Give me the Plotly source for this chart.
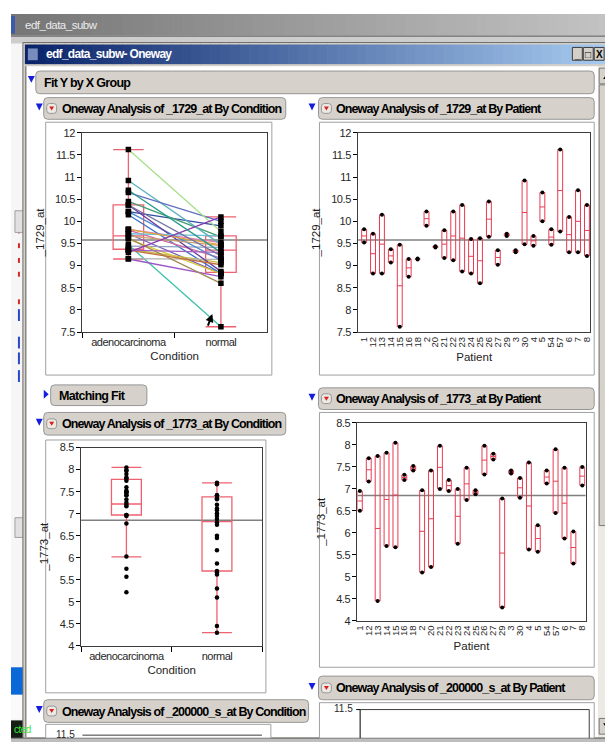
import numpy as np
import plotly.graph_objects as go

W, H = 613, 742
FONT = "Liberation Sans, Arial, sans-serif"

# ---------------- data ----------------
conditions = ["adenocarcinoma", "normal"]
patients = ["1", "12", "13", "14", "15", "16", "18", "2", "20", "21", "22", "23", "24",
            "25", "26", "27", "29", "3", "30", "4", "5", "54", "57", "6", "7", "8"]

# _1729_at per patient (adenocarcinoma / normal)
a1729 = [9.82, 9.72, 10.15, 9.37, 9.47, 9.15, 9.16, 10.22, 9.44, 9.80, 10.22, 10.37, 9.60,
         9.62, 10.45, 9.35, 9.72, 9.35, 10.92, 9.67, 10.65, 9.82, 11.62, 9.30, 10.70, 10.37]
n1729 = [9.52, 8.82, 8.82, 9.07, 7.62, 8.75, 9.14, 9.90, 9.41, 9.17, 9.12, 8.87, 8.82,
         8.60, 9.65, 9.02, 9.67, 9.30, 9.48, 9.45, 10.00, 9.47, 9.77, 10.10, 9.30, 9.22]

# _1773_at per patient (adenocarcinoma / normal)
a1773 = [6.95, 7.17, 7.75, 7.82, 8.05, 7.32, 7.52, 6.97, 5.22, 7.98, 7.20, 5.75, 7.48,
         6.97, 7.98, 7.80, 6.78, 7.42, 7.25, 7.60, 5.57, 7.42, 7.90, 7.48, 6.03, 7.50]
n1773 = [6.50, 7.70, 4.45, 5.70, 5.67, 7.20, 7.42, 5.10, 7.42, 7.00, 6.95, 7.00, 6.75,
         6.88, 7.33, 7.67, 4.30, 7.35, 6.80, 5.62, 6.17, 7.12, 6.45, 5.87, 5.30, 7.08]

# quantile boxes by condition
b1729_q1 = [9.37, 8.85]
b1729_med = [9.67, 9.35]
b1729_q3 = [10.37, 9.67]
b1729_lo = [9.15, 7.62]
b1729_hi = [11.62, 10.10]

b1773_q1 = [6.97, 5.70]
b1773_med = [7.22, 6.82]
b1773_q3 = [7.78, 7.38]
b1773_lo = [6.02, 4.30]
b1773_hi = [8.05, 7.70]

mean_1729 = 9.58
mean_1773 = 6.85

yticks_1729 = [7.5, 8, 8.5, 9, 9.5, 10, 10.5, 11, 11.5, 12]
yticks_1773 = [4, 4.5, 5, 5.5, 6, 6.5, 7, 7.5, 8, 8.5]

line_colors = ["#e07fb0", "#7b5fb8", "#3a6fc8", "#c9b93a", "#3cc0a8", "#9a55c8", "#b0b0b0",
               "#2f4f9f", "#8fa0c0", "#d06a9a", "#4a8ad0", "#6a3aa0", "#d8c840", "#a08a50",
               "#3f9f6f", "#c07040", "#70c0d8", "#a060c0", "#5ab0c0", "#c8a070", "#6070c0",
               "#e0a040", "#a6e08a", "#8a3ab0", "#2a9a8a", "#7070a0"]

RED = "rgb(232,58,80)"
PINK = "rgb(238,98,112)"
HDR = "rgb(214,210,203)"

# ---------------- helpers ----------------
def px(x):
    return x / W

def py(y):
    return 1 - y / H

shapes = []
annots = []

def rect(x0, y0, x1, y1, fill, line=None, lw=1):
    shapes.append(dict(type="rect", xref="paper", yref="paper", layer="below",
                       x0=px(x0), x1=px(x1), y0=py(y1), y1=py(y0),
                       fillcolor=fill, line=dict(color=line or fill, width=lw if line else 0)))

def hline(x0, x1, y, color, lw=1):
    shapes.append(dict(type="line", xref="paper", yref="paper", layer="below",
                       x0=px(x0), x1=px(x1), y0=py(y), y1=py(y), line=dict(color=color, width=lw)))

def vline(x, y0, y1, color, lw=1):
    shapes.append(dict(type="line", xref="paper", yref="paper", layer="below",
                       x0=px(x), x1=px(x), y0=py(y0), y1=py(y1), line=dict(color=color, width=lw)))

def poly(pts, fill, line=None):
    d = "M " + " L ".join(f"{px(a):.5f},{py(b):.5f}" for a, b in pts) + " Z"
    shapes.append(dict(type="path", xref="paper", yref="paper", layer="below", path=d,
                       fillcolor=fill, line=dict(color=line or fill, width=1 if line else 0)))

def rrect(x0, y0, x1, y1, r, fill, line):
    rx, ry = r / W, r / H
    X0, X1, Y0, Y1 = px(x0), px(x1), py(y1), py(y0)
    d = (f"M {X0+rx},{Y1} L {X1-rx},{Y1} Q {X1},{Y1} {X1},{Y1-ry} L {X1},{Y0+ry} "
         f"Q {X1},{Y0} {X1-rx},{Y0} L {X0+rx},{Y0} Q {X0},{Y0} {X0},{Y0+ry} "
         f"L {X0},{Y1-ry} Q {X0},{Y1} {X0+rx},{Y1} Z")
    shapes.append(dict(type="path", xref="paper", yref="paper", layer="below", path=d,
                       fillcolor=fill, line=dict(color=line, width=1)))

def squeeze(s, ls):
    return f'<span style="letter-spacing:{ls}px">{s}</span>'

def text(x, y, s, size=12, color="black", xanchor="left", bold=False, ls=None):
    t = f"<b>{s}</b>" if bold else s
    if ls is not None:
        t = squeeze(t, ls)
    annots.append(dict(x=px(x), y=py(y), xref="paper", yref="paper", showarrow=False,
                       text=t, xanchor=xanchor, yanchor="middle",
                       font=dict(family=FONT, size=size, color=color)))

def gradient(x0, y0, x1, y1, c0, c1, n=60):
    for i in range(n):
        t = i / (n - 1)
        c = tuple(int(round(c0[k] + (c1[k] - c0[k]) * t)) for k in range(3))
        xa = x0 + (x1 - x0) * i / n
        xb = x0 + (x1 - x0) * (i + 1) / n + 0.6
        rect(xa, y0, xb, y1, f"rgb{c}")

def blue_down(x, y):
    poly([(x, y), (x + 7, y), (x + 3.5, y + 7)], "rgb(20,30,220)")

def red_icon(x, y):
    rrect(x, y, x + 10, y + 10, 3, "rgb(236,233,228)", "rgb(150,150,150)")
    poly([(x + 2.5, y + 3), (x + 7.5, y + 3), (x + 5, y + 7)], "rgb(220,30,30)")

def header(x0, y0, x1, y1, label, tri_x=None, icon=True):
    rrect(x0, y0, x1, y1, 4, HDR, "rgb(150,150,150)")
    yc = (y0 + y1) / 2
    if tri_x is not None:
        blue_down(tri_x, yc - 5)
    if icon:
        red_icon(x0 + 3, yc - 5)
        text(x0 + 16, yc + 0.5, label, size=12.5, bold=True, ls=-0.9)
    else:
        text(x0 + 6, yc + 0.5, label, size=12.5, bold=True, ls=-0.7)

# ---------------- window chrome ----------------
rect(0, 0, W, H, "rgb(212,208,200)")
gradient(0, 0, W, 22, (118, 118, 118), (196, 196, 196))
rect(0, 2, 4, 20, "rgb(60,90,170)")
text(12, 11, "edf_data_subw", size=11.5, color="rgb(235,235,235)", ls=-0.5)
rect(0, 22, W, 30, "rgb(205,205,205)")
hline(0, W, 22.5, "rgb(90,90,90)")
# left strip of the other window
rect(0, 30, 14, 742, "rgb(246,246,246)")
for yy in (218, 233, 248, 262, 290):
    rect(7, yy, 9, yy + 5, "rgb(215,40,40)")
for yy in (300, 328, 344, 362):
    rect(7, yy, 9, yy + 12, "rgb(40,70,200)")
rect(4, 200, 13, 222, "rgb(225,225,225)", "rgb(160,160,160)")
rect(4, 512, 13, 532, "rgb(225,225,225)", "rgb(160,160,160)")
rect(0, 664, 30, 692, "rgb(10,105,215)")
rect(0, 692, 30, 716, "rgb(250,250,250)")
rect(0, 718, 26, 736, "rgb(20,30,20)")
text(1, 727, "cted", size=10, color="rgb(60,230,60)", ls=-0.5)
# inner window frame
rect(12, 29, 611, 737, "rgb(212,208,200)", "rgb(110,110,110)")
gradient(14, 31, 604, 51, (10, 36, 106), (166, 202, 240))
rect(17, 35, 27, 47, "rgb(120,140,190)")
text(33, 41, "edf_data_subw- Oneway", size=12, color="white", bold=True, ls=-0.7)
for i, sym in enumerate(["_", "□", "X"]):
    bx = 566 + i * 11
    rect(bx, 34, bx + 10, 47, "rgb(212,208,200)", "rgb(60,60,60)")
    text(bx + 5, 41, sym, size=10, color="black", xanchor="center", bold=True)
# client area
rect(15, 53, 592, 735, "white")
vline(15, 53, 735, "rgb(90,90,90)")
# scrollbar
rect(592, 53, 609, 735, "rgb(236,234,228)")
rect(593, 55, 608, 71, HDR, "rgb(120,120,120)")
poly([(597, 66), (604, 66), (600.5, 61)], "black")
rect(593, 72, 608, 520, HDR, "rgb(120,120,120)")
rect(593, 716, 608, 732, HDR, "rgb(120,120,120)")
poly([(597, 721), (604, 721), (600.5, 726)], "black")
rect(609, 30, W, 742, "rgb(180,180,180)")
rect(0, 736, W, 742, "rgb(190,190,190)")
hline(0, W, 736, "rgb(90,90,90)")

# headers
header(25, 58, 588, 81, "Fit Y by X Group", tri_x=None, icon=False)
blue_down(17, 63)
header(33, 85, 277, 107, "Oneway Analysis of _1729_at By Condition", tri_x=25)
header(310, 85, 588, 107, "Oneway Analysis of _1729_at By Patient", tri_x=300)
rrect(40, 377, 137, 398, 4, HDR, "rgb(150,150,150)")
poly([(33, 382), (33, 391), (38, 386.5)], "rgb(20,30,220)")
text(46, 388, "Matching Fit", size=12.5, bold=True, ls=-0.7)
header(33, 405, 277, 428, "Oneway Analysis of _1773_at By Condition", tri_x=25)
header(310, 380, 588, 402, "Oneway Analysis of _1773_at By Patient", tri_x=300)
header(310, 673, 588, 697, "Oneway Analysis of _200000_s_at By Patient", tri_x=300)
header(33, 697, 300, 720, "Oneway Analysis of _200000_s_at By Condition", tri_x=25)

# panels
rect(35, 110, 263, 367, "white", "rgb(160,160,160)")
rect(311, 110, 588, 367, "white", "rgb(160,160,160)")
rect(35, 433, 257, 690, "white", "rgb(160,160,160)")
rect(311, 405, 588, 664, "white", "rgb(160,160,160)")
rect(311, 700, 588, 736, "white", "rgb(160,160,160)")
rect(35, 722, 262, 736, "white", "rgb(160,160,160)")
# partially visible plots at the bottom
hline(352, 583, 707, "rgb(60,60,60)")
vline(352, 707, 736, "black")
vline(583, 707, 736, "rgb(60,60,60)")
hline(348, 352, 707, "black")
text(347, 706, "11.5", size=10, color="rgb(40,40,40)", xanchor="right")
hline(72, 253, 733, "rgb(60,60,60)")
text(67, 732, "11.5", size=10, color="rgb(40,40,40)", xanchor="right")

# ---------------- figure ----------------
fig = go.Figure()

def box_cond(xa, ya, q1, med, q3, lo, hi):
    fig.add_trace(go.Box(x=conditions, q1=q1, median=med, q3=q3, lowerfence=lo, upperfence=hi,
                         width=0.33, whiskerwidth=1, boxpoints=False,
                         line=dict(color=PINK, width=1.3), fillcolor="rgba(0,0,0,0)",
                         xaxis=xa, yaxis=ya, showlegend=False, hoverinfo="skip"))

def box_pat(xa, ya, a, n):
    lo = list(np.minimum(a, n))
    hi = list(np.maximum(a, n))
    md = list((np.array(a) + np.array(n)) / 2)
    fig.add_trace(go.Box(x=patients, q1=lo, median=md, q3=hi, lowerfence=lo, upperfence=hi,
                         width=0.55, whiskerwidth=0, boxpoints=False,
                         line=dict(color=RED, width=1), fillcolor="rgba(0,0,0,0)",
                         xaxis=xa, yaxis=ya, showlegend=False, hoverinfo="skip"))
    fig.add_trace(go.Scatter(x=patients + patients, y=list(a) + list(n), mode="markers",
                             marker=dict(color="black", size=4, symbol="circle"),
                             xaxis=xa, yaxis=ya, showlegend=False, hoverinfo="skip"))

# top-left: _1729_at by Condition with matching lines
box_cond("x", "y", b1729_q1, b1729_med, b1729_q3, b1729_lo, b1729_hi)
for i in range(len(patients)):
    fig.add_trace(go.Scatter(x=conditions, y=[a1729[i], n1729[i]], mode="lines",
                             line=dict(color=line_colors[i], width=1.3),
                             xaxis="x", yaxis="y", showlegend=False, hoverinfo="skip"))
fig.add_trace(go.Scatter(x=[conditions[0]] * len(a1729) + [conditions[1]] * len(n1729),
                         y=a1729 + n1729, mode="markers",
                         marker=dict(color="black", size=5.5, symbol="square"),
                         xaxis="x", yaxis="y", showlegend=False, hoverinfo="skip"))

# top-right
box_pat("x2", "y2", a1729, n1729)

# bottom-left
box_cond("x3", "y3", b1773_q1, b1773_med, b1773_q3, b1773_lo, b1773_hi)
fig.add_trace(go.Scatter(x=[conditions[0]] * len(a1773) + [conditions[1]] * len(n1773),
                         y=a1773 + n1773, mode="markers",
                         marker=dict(color="black", size=4.5, symbol="circle"),
                         xaxis="x3", yaxis="y3", showlegend=False, hoverinfo="skip"))

# bottom-right
box_pat("x4", "y4", a1773, n1773)

# grand mean lines
for xr, yr, m in (("x", "y", mean_1729), ("x2", "y2", mean_1729),
                  ("x3", "y3", mean_1773), ("x4", "y4", mean_1773)):
    shapes.append(dict(type="line", xref=f"{xr} domain", yref=yr, x0=0, x1=1, y0=m, y1=m,
                       layer="below", line=dict(color="rgb(128,128,128)", width=1.5)))

# cursor arrow in top-left plot
annots.append(dict(x=px(203), y=py(305), xref="paper", yref="paper", showarrow=True,
                   ax=-5, ay=13, arrowhead=2, arrowsize=0.8, arrowwidth=2, arrowcolor="black",
                   text=""))

tickfont = dict(family=FONT, size=11, color="rgb(40,40,40)")
patfont = dict(family=FONT, size=9.5, color="rgb(40,40,40)")
titlefont = dict(family=FONT, size=11.5, color="rgb(30,30,30)")
cond_text = [squeeze(c, -0.5) for c in conditions]
ytext_1729 = [squeeze(f"{v:g}", -0.4) for v in yticks_1729]
ytext_1773 = [squeeze(f"{v:g}", -0.4) for v in yticks_1773]

def ax_common(tf=tickfont):
    return dict(showline=True, linecolor="rgb(60,60,60)", linewidth=1, mirror=True,
                showgrid=False, zeroline=False, tickfont=tf, tickcolor="black")

def dom_x(a, b):
    return [px(a), px(b)]

def dom_y(top, bot):
    return [py(bot), py(top)]

layout = dict(
    width=W, height=H, margin=dict(l=0, r=0, t=0, b=0),
    paper_bgcolor="white", plot_bgcolor="white", showlegend=False,
    font=dict(family=FONT), boxmode="overlay",
    xaxis=dict(**ax_common(), domain=dom_x(71.7, 258.3), anchor="y", type="category",
               categoryorder="array", categoryarray=conditions, range=[-0.5, 1.5],
               tickmode="array", tickvals=conditions, ticktext=cond_text,
               tickson="boundaries", ticks="outside", ticklen=5, tickangle=0,
               title=dict(text="Condition", font=titlefont, standoff=4)),
    yaxis=dict(**ax_common(), domain=dom_y(120.7, 323.3), anchor="x", range=[7.5, 12],
               tickmode="array", tickvals=yticks_1729, ticktext=ytext_1729,
               ticks="outside", ticklen=4,
               title=dict(text="_1729_at", font=titlefont, standoff=8)),
    xaxis2=dict(**ax_common(patfont), domain=dom_x(350, 584), anchor="y2", type="category",
                categoryorder="array", categoryarray=patients, range=[-0.67, 25.37],
                tickmode="array", tickvals=patients, ticktext=patients,
                tickangle=-90, ticks="",
                title=dict(text="Patient", font=titlefont, standoff=6)),
    yaxis2=dict(**ax_common(), domain=dom_y(120.7, 323.3), anchor="x2", range=[7.5, 12],
                tickmode="array", tickvals=yticks_1729, ticktext=ytext_1729,
                ticks="outside", ticklen=4,
                title=dict(text="_1729_at", font=titlefont, standoff=8)),
    xaxis3=dict(**ax_common(), domain=dom_x(70.7, 253.3), anchor="y3", type="category",
                categoryorder="array", categoryarray=conditions, range=[-0.5, 1.5],
                tickmode="array", tickvals=conditions, ticktext=cond_text,
                tickson="boundaries", ticks="outside", ticklen=5, tickangle=0,
                title=dict(text="Condition", font=titlefont, standoff=4)),
    yaxis3=dict(**ax_common(), domain=dom_y(440.7, 642.3), anchor="x3", range=[4, 8.5],
                tickmode="array", tickvals=yticks_1773, ticktext=ytext_1773,
                ticks="outside", ticklen=4,
                title=dict(text="_1773_at", font=titlefont, standoff=8)),
    xaxis4=dict(**ax_common(patfont), domain=dom_x(349.3, 579.3), anchor="y4", type="category",
                categoryorder="array", categoryarray=patients, range=[-0.27, 25.37],
                tickmode="array", tickvals=patients, ticktext=patients,
                tickangle=-90, ticks="",
                title=dict(text="Patient", font=titlefont, standoff=6)),
    yaxis4=dict(**ax_common(), domain=dom_y(415.7, 616.7), anchor="x4", range=[4, 8.5],
                tickmode="array", tickvals=yticks_1773, ticktext=ytext_1773,
                ticks="outside", ticklen=4,
                title=dict(text="_1773_at", font=titlefont, standoff=8)),
    shapes=shapes, annotations=annots,
)
fig.update_layout(**layout)
fig.write_html("out.html")
